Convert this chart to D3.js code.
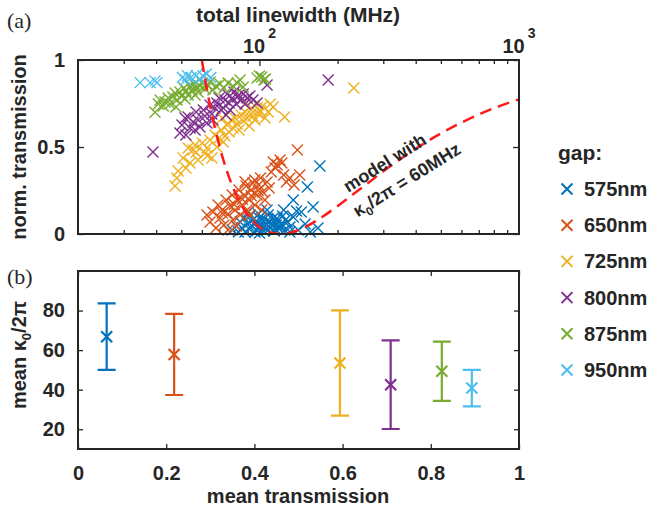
<!DOCTYPE html>
<html>
<head>
<meta charset="utf-8">
<script src="https://cdn.jsdelivr.net/npm/d3@7"></script>
<style>
body { margin: 0; background: #fff; }
text { font-family: "Liberation Sans", Arial, sans-serif; font-weight: bold; fill: #262626; }
</style>
</head>
<body>
<div id="chart"></div>
<script>
// ---- data ----
var gaps = ["575nm", "650nm", "725nm", "800nm", "875nm", "950nm"];
var colors = ["#0072BD", "#D95319", "#EDB120", "#7E2F8E", "#77AC30", "#4DBEEE"];

// panel (a): [total linewidth (MHz), norm. transmission]
var gap575 = [[78.5,.023],[81.4,.046],[83.0,.011],[84.2,.069],[85.8,.034],[87.3,.092],[88.0,.011],[89.6,.057],[91.3,.029],[91.9,.103],
  [93.6,.046],[94.4,.080],[96.1,.011],[97.0,.069],[98.7,.034],[99.3,.115],[101,.052],[102,.086],[104,.017],[105,.046],
  [107,.075],[108,.109],[110,.034],[111,.063],[113,.092],[114,.017],[116,.052],[118,.080],[119,.029],[121,.057],
  [123,.103],[125,.023],[128,.069],[131,.040],[135,.195],[135,.098],[139,.132],[141,.023],[145,.126],[153,.270],
  [161,.155],[168,.034],[171,.391],[150,.057],[124,.138],[107,.138],[131,.011],[157,.011],[100,.006],[90.5,.126],
  [95,.06],[100,.09],[104,.04],[109,.07],[112,.05],[117,.09],[120,.04],[126,.08],[98,.02],[115,.03]];
var gap650 = [[62.8,.109],[64.5,.069],[66.2,.126],[68.0,.034],[69.3,.167],[70.5,.092],[71.9,.138],[73.0,.052],[74.4,.195],[75.7,.115],
  [77.0,.161],[78.5,.224],[79.1,.080],[80.5,.138],[82.1,.195],[83.4,.253],[84.2,.109],[85.8,.167],[87.3,.224],[88.9,.276],
  [89.6,.138],[91.3,.195],[92.8,.253],[94.4,.293],[96.1,.167],[97.9,.224],[99.3,.282],[101,.322],[103,.241],[105,.195],
  [107,.299],[109,.264],[111,.356],[113,.414],[115,.379],[117,.397],[120,.425],[122,.408],[124,.339],[127,.299],
  [131,.322],[136,.282],[140,.483],[143,.339],[75.7,.023],[81.4,.046],[91.9,.109],[102,.138],[88,.30],[96,.31],
  [86,.20],[93,.22],[99,.25],[80,.17],[72,.12]];
var gap725 = [[47.3,.276],[48.1,.322],[48.6,.362],[50.8,.437],[52.1,.379],[54.0,.408],[55.5,.483],[56.5,.511],[58.0,.425],[60.2,.523],
  [61.7,.466],[62.8,.494],[64.5,.540],[65.6,.437],[67.4,.569],[68.6,.500],[69.9,.552],[71.2,.598],[72.5,.529],[73.7,.563],
  [75.1,.626],[76.4,.586],[77.8,.655],[79.1,.609],[80.5,.667],[82.1,.632],[83.4,.598],[85.0,.684],[86.6,.649],[88.0,.701],
  [89.6,.667],[91.3,.621],[92.8,.713],[94.4,.678],[96.1,.655],[97.9,.724],[99.3,.690],[101,.707],[103,.736],[105,.667],
  [108,.701],[110,.747],[113,.730],[125,.672],[231,.839],[53.1,.494],[57,.47],[63,.45],[71.9,.667],[88.9,.753]];
var gap800 = [[38.9,.471],[49.4,.580],[50.3,.626],[51.7,.667],[53.1,.672],[54.0,.609],[55.5,.644],[57.0,.701],[58.0,.655],[59.0,.615],
  [60.8,.713],[61.7,.678],[62.8,.638],[64.5,.741],[65.6,.690],[67.4,.724],[68.6,.753],[69.9,.782],[71.2,.713],[72.5,.724],
  [73.7,.770],[75.1,.805],[76.4,.753],[77.0,.713],[78.5,.782],[79.8,.816],[81.4,.747],[82.1,.787],[83.4,.799],[85.0,.770],
  [86.6,.805],[88.0,.747],[89.6,.782],[91.9,.793],[94.4,.770],[97.9,.753],[107,.856],[184,.885],[52.1,.569],[56.5,.598],
  [66.2,.655],[74.4,.684]];
var gap875 = [[39.6,.70],[40.8,.747],[41.4,.77],[42.6,.736],[43.3,.759],[44.5,.782],[45.2,.747],[46.4,.787],[47.3,.81],[48.1,.77],
  [49.4,.816],[50.3,.793],[51.2,.839],[52.1,.822],[53.1,.799],[54.0,.851],[55.0,.828],[56.0,.862],[57.0,.839],[58.0,.816],
  [59.0,.851],[60.2,.868],[61.7,.833],[62.8,.856],[64.5,.874],[66.2,.828],[68.0,.851],[70.5,.862],[73.0,.839],[75.7,.868],
  [79.1,.851],[82.1,.868],[84.2,.885],[86.6,.845],[97.9,.897],[100,.908],[102,.902],[104,.885],[105.5,.891],[47.7,.730],
  [51.7,.776],[56.5,.799]];
var gap950 = [[34.7,.87],[37.9,.87],[39.6,.88],[40.3,.87],[50.5,.90],[52.8,.91],[54.5,.90],[57.0,.91],[60.5,.91],[62.5,.92],
  [65,.90],[51.9,.885],[59,.89]];
var scatterSets = [gap575, gap650, gap725, gap800, gap875, gap950];

// model curve, kappa0/2pi = 60MHz
var modelLw = [60, 61, 62, 65, 67, 70, 75, 80, 90, 100, 110, 120, 130, 150, 175, 200, 250, 300, 400, 500, 600, 750, 1000];
var modelT = [1.0, 0.935, 0.875, 0.716, 0.626, 0.510, 0.360, 0.250, 0.111, 0.040, 0.0083, 0, 0.0059, 0.040, 0.099, 0.160, 0.270, 0.360, 0.490, 0.578, 0.640, 0.706, 0.774];

// panel (b)
var meanTrans = [0.065, 0.218, 0.594, 0.709, 0.825, 0.893];
var meanKappa = [66.8, 57.8, 53.5, 42.5, 49.3, 40.8];
var kappaErr = [16.8, 20.5, 26.6, 22.4, 15.0, 9.2];

var topMinor = [30, 40, 50, 60, 70, 80, 90, 200, 300, 400, 500, 600, 700, 800, 900];
var topMajor = [100];
var topExp = [2, 3];
var yTopTicks = [0, 0.5, 1];
var xBotTicks = [0, 0.2, 0.4, 0.6, 0.8, 1];
var yBotTicks = [20, 40, 60, 80];

// ---- layout ----
var w = 654, h = 510;
var axisColor = "#262626";
var svg = d3.select("#chart").append("svg").attr("width", w).attr("height", h);

var xTop = d3.scaleLog().domain([20, 1000]).range([78, 519]);
var yTop = d3.scaleLinear().domain([0, 1]).range([234, 60]);
var xBot = d3.scaleLinear().domain([0, 1]).range([78, 519]);
var yBot = d3.scaleLinear().domain([10, 100]).range([449, 271]);

function crossPath(x, y, s) {
  return "M" + (x - s) + "," + (y - s) + "L" + (x + s) + "," + (y + s) +
         "M" + (x - s) + "," + (y + s) + "L" + (x + s) + "," + (y - s);
}
function tidy(g, keepText) {
  g.select(".domain").remove();
  g.selectAll("line").attr("stroke", axisColor).attr("stroke-width", 1.3);
  if (!keepText) g.selectAll("text").remove();
  g.selectAll("text").attr("font-size", 20).attr("fill", axisColor)
    .attr("font-family", '"Liberation Sans", Arial, sans-serif').attr("font-weight", "bold");
}

// ---- panel (a) ----
var panelA = svg.append("g");
panelA.append("g").attr("transform", "translate(0,60)")
  .call(d3.axisTop(xTop).tickValues(topMinor).tickSize(-4)).call(tidy, false);
panelA.append("g").attr("transform", "translate(0,60)")
  .call(d3.axisTop(xTop).tickValues(topMajor).tickSize(-6)).call(tidy, false);
panelA.append("g").attr("transform", "translate(0,234)")
  .call(d3.axisBottom(xTop).tickValues(topMinor).tickSize(-4)).call(tidy, false);
panelA.append("g").attr("transform", "translate(0,234)")
  .call(d3.axisBottom(xTop).tickValues(topMajor).tickSize(-6)).call(tidy, false);
panelA.append("g").attr("transform", "translate(78,0)")
  .call(d3.axisLeft(yTop).tickValues(yTopTicks).tickSize(-6).tickPadding(13).tickFormat(d3.format("~g"))).call(tidy, true);
panelA.append("g").attr("transform", "translate(519,0)")
  .call(d3.axisRight(yTop).tickValues(yTopTicks).tickSize(-6)).call(tidy, false);

scatterSets.forEach(function(set, i) {
  panelA.append("g").selectAll("path")
    .data(set)
    .enter()
    .append("path")
    .attr("d", function(d) { return crossPath(xTop(d[0]), yTop(d[1]), 5.5); })
    .attr("stroke", colors[i])
    .attr("stroke-width", 1.4)
    .attr("fill", "none");
});

var model = d3.line()
  .x(function(d, i) { return xTop(modelLw[i]); })
  .y(function(d) { return yTop(d); })
  .curve(d3.curveMonotoneX);
panelA.append("path")
  .attr("d", model(modelT))
  .attr("fill", "none")
  .attr("stroke", "#ff1a1a")
  .attr("stroke-width", 2.5)
  .attr("stroke-dasharray", "12,7");

panelA.append("rect").attr("x", 78).attr("y", 60).attr("width", 441).attr("height", 174)
  .attr("fill", "none").attr("stroke", axisColor).attr("stroke-width", 2);

// 10^n labels
panelA.selectAll(".pow")
  .data(topExp)
  .enter()
  .append("text")
  .attr("class", "pow")
  .attr("x", function(d) { return xTop(Math.pow(10, d)); })
  .attr("y", 53)
  .attr("text-anchor", "middle")
  .attr("font-size", 20)
  .each(function(d) {
    var t = d3.select(this);
    t.append("tspan").text("10");
    t.append("tspan").attr("dx", 3).attr("dy", -15).attr("font-size", 14).text(d);
  });

svg.append("text").attr("x", 298).attr("y", 22).attr("text-anchor", "middle")
  .attr("font-size", 21).text("total linewidth (MHz)");
svg.append("text").attr("transform", "translate(26,147) rotate(-90)").attr("text-anchor", "middle")
  .attr("font-size", 20).text("norm. transmission");
svg.append("text").attr("x", 7).attr("y", 28).attr("font-size", 22)
  .style("font-family", '"Liberation Serif", "Times New Roman", serif').style("font-weight", "normal").text("(a)");

svg.append("text").attr("transform", "translate(388,168) rotate(-32)").attr("text-anchor", "middle")
  .attr("font-size", 18).text("model with");
var m2 = svg.append("text").attr("transform", "translate(410,185) rotate(-32)").attr("text-anchor", "middle")
  .attr("font-size", 18);
m2.append("tspan").text("κ");
m2.append("tspan").attr("dy", 5).attr("font-size", 12).text("0");
m2.append("tspan").attr("dy", -5).text("/2π = 60MHz");

// ---- panel (b) ----
var panelB = svg.append("g");
panelB.append("g").attr("transform", "translate(0,449)")
  .call(d3.axisBottom(xBot).tickValues(xBotTicks).tickSize(-5).tickPadding(17).tickFormat(d3.format("~g"))).call(tidy, true);
panelB.append("g").attr("transform", "translate(0,271)")
  .call(d3.axisTop(xBot).tickValues(xBotTicks).tickSize(-5)).call(tidy, false);
panelB.append("g").attr("transform", "translate(78,0)")
  .call(d3.axisLeft(yBot).tickValues(yBotTicks).tickSize(-5).tickPadding(13)).call(tidy, true);
panelB.append("g").attr("transform", "translate(519,0)")
  .call(d3.axisRight(yBot).tickValues(yBotTicks).tickSize(-5)).call(tidy, false);

var bars = panelB.selectAll(".eb")
  .data(meanTrans)
  .enter()
  .append("g")
  .attr("class", "eb")
  .attr("stroke", function(d, i) { return colors[i]; })
  .attr("stroke-width", 2.2)
  .attr("fill", "none");
bars.append("path").attr("d", function(d, i) {
  var x = xBot(d), y1 = yBot(meanKappa[i] - kappaErr[i]), y2 = yBot(meanKappa[i] + kappaErr[i]);
  return "M" + x + "," + y1 + "L" + x + "," + y2 +
         "M" + (x - 9) + "," + y1 + "L" + (x + 9) + "," + y1 +
         "M" + (x - 9) + "," + y2 + "L" + (x + 9) + "," + y2;
});
bars.append("path").attr("d", function(d, i) { return crossPath(xBot(d), yBot(meanKappa[i]), 5.5); });

panelB.append("rect").attr("x", 78).attr("y", 271).attr("width", 441).attr("height", 178)
  .attr("fill", "none").attr("stroke", axisColor).attr("stroke-width", 2);

svg.append("text").attr("x", 298).attr("y", 503).attr("text-anchor", "middle")
  .attr("font-size", 20).text("mean transmission");
var yl = svg.append("text").attr("transform", "translate(26,355) rotate(-90)").attr("text-anchor", "middle")
  .attr("font-size", 20);
yl.append("tspan").text("mean κ");
yl.append("tspan").attr("dy", 5).attr("font-size", 13).text("0");
yl.append("tspan").attr("dy", -5).text("/2π");
svg.append("text").attr("x", 7).attr("y", 284).attr("font-size", 22)
  .style("font-family", '"Liberation Serif", "Times New Roman", serif').style("font-weight", "normal").text("(b)");

// ---- legend ----
svg.append("text").attr("x", 558).attr("y", 160).attr("font-size", 21).text("gap:");
var leg = svg.selectAll(".leg")
  .data(gaps)
  .enter()
  .append("g")
  .attr("class", "leg")
  .attr("transform", function(d, i) { return "translate(567," + (189 + i * 36.2) + ")"; });
leg.append("path").attr("d", crossPath(0, 0, 5.5))
  .attr("stroke", function(d, i) { return colors[i]; }).attr("stroke-width", 2).attr("fill", "none");
leg.append("text").attr("x", 17).attr("y", 7).attr("font-size", 20).text(function(d) { return d; });
</script>
</body>
</html>
